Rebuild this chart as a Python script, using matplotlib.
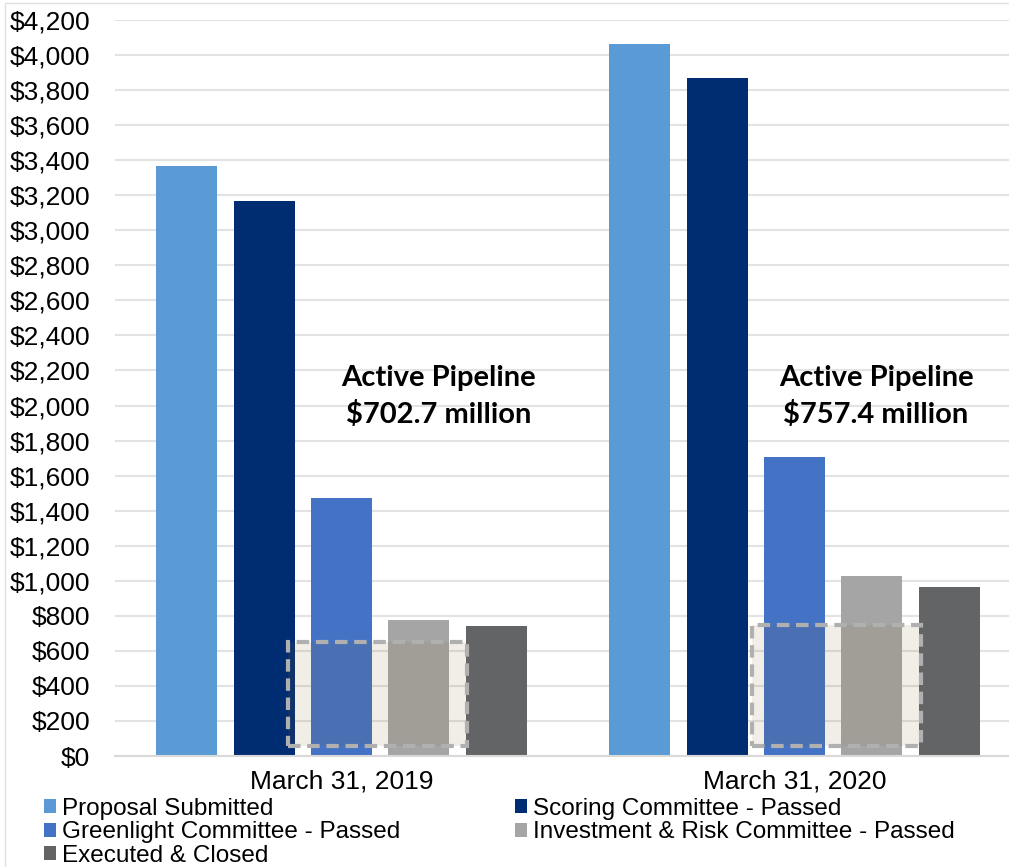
import numpy as np
import matplotlib
matplotlib.use('Agg')
import matplotlib.pyplot as plt
from matplotlib.patches import Patch, Rectangle

# data ($ millions)
dates = ['March 31, 2019', 'March 31, 2020']
stages = ['Proposal Submitted', 'Scoring Committee - Passed',
          'Greenlight Committee - Passed', 'Investment & Risk Committee - Passed',
          'Executed & Closed']
proposal = [3367, 4063]
scoring = [3167, 3869]
greenlight = [1472, 1706]
invest_risk = [776, 1027]
executed = [742, 964]
pipeline = [702.7, 757.4]
colors = ['#5B9BD5', '#002D72', '#4472C4', '#A5A5A5', '#636466']

series = [proposal, scoring, greenlight, invest_risk, executed]

plt.rcParams['font.family'] = ['Liberation Sans', 'DejaVu Sans']

fig = plt.figure(figsize=(10.09, 8.67), dpi=100)
ax = fig.add_axes([115 / 1009, 1 - 756 / 867, 906 / 1009, 736 / 867])

x = np.arange(len(dates))
step = 0.1706
width = 0.1347
for i, (vals, c) in enumerate(zip(series, colors)):
    ax.bar(x + (i - 2) * step, vals, width, color=c, zorder=2, label=stages[i])

# highlighted active pipeline boxes
box_left = [-0.119, -0.093]
box_right = [0.276, 0.280]
box_bottom = [57, 57]
box_top = [650, 748]
for i in range(len(dates)):
    ax.add_patch(Rectangle((x[i] + box_left[i], box_bottom[i]),
                           box_right[i] - box_left[i], box_top[i] - box_bottom[i],
                           facecolor=(130 / 255, 95 / 255, 40 / 255, 0.11),
                           edgecolor='#B0B0B0', linewidth=3, linestyle=(0, (3, 1.6)),
                           zorder=3))

text_dx = [0.214, 0.18]
for i in range(len(dates)):
    ax.text(x[i] + text_dx[i], 2050,
            'Active Pipeline\n${:.1f} million'.format(pipeline[i]),
            ha='center', va='center', fontsize=21, fontweight='bold',
            family=['Lato', 'DejaVu Sans'], linespacing=1.45, zorder=4)

ax.set_xlim(-0.5, 1.5)
ax.set_ylim(0, 4200)
ax.set_yticks(np.arange(0, 4201, 200))
ax.set_yticklabels(['${:,}'.format(v) for v in range(0, 4201, 200)], fontsize=19)
ax.set_xticks(x)
ax.set_xticklabels(dates, fontsize=19)
ax.tick_params(axis='y', length=0, pad=18)
ax.tick_params(axis='x', length=0, pad=10)
for s in ['top', 'right', 'left']:
    ax.spines[s].set_visible(False)
ax.spines['bottom'].set_color('#D9D9D9')
ax.spines['bottom'].set_linewidth(1.5)
ax.yaxis.grid(True, color='#E3E3E3', linewidth=1.5, zorder=0)
ax.set_axisbelow(True)

# legend, filled row by row
order = [0, 2, 4, 1, 3]
handles = [Patch(facecolor=colors[k], edgecolor='none') for k in order]
labels = [stages[k] for k in order]
fig.legend(handles, labels, loc='upper left', bbox_to_anchor=(44 / 1009, 1 - 798 / 867),
           ncol=2, frameon=False, fontsize=17.5, handlelength=0.5, handleheight=0.5,
           handletextpad=0.25, labelspacing=0.06, columnspacing=4.7,
           borderpad=0, borderaxespad=0)

# chart border
fig.add_artist(Rectangle((5 / 1009, -0.1), 1.2, 1.1 - 3 / 867, transform=fig.transFigure,
                         fill=False, edgecolor='#E0E0E0', linewidth=1))

fig.savefig('out.png', dpi=100)
